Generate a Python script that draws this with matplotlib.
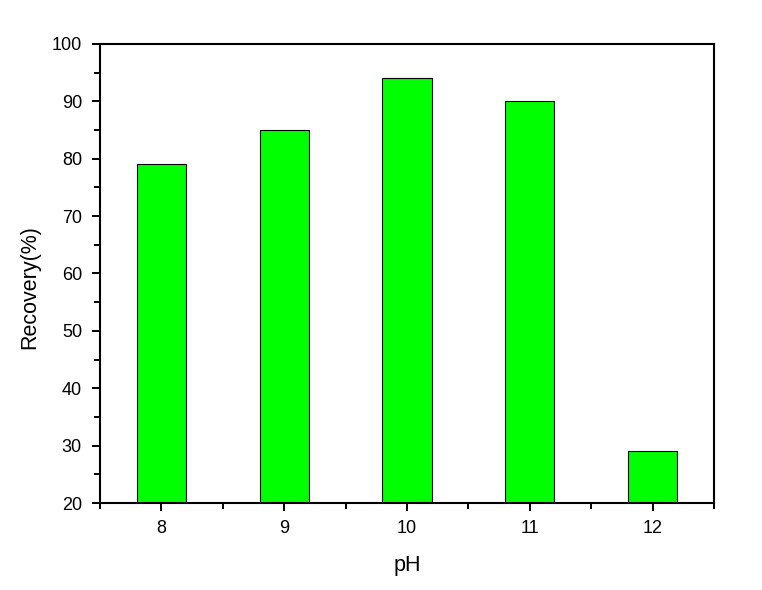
import matplotlib
matplotlib.use("Agg")
import matplotlib.pyplot as plt
from matplotlib.ticker import MultipleLocator

ph = [8, 9, 10, 11, 12]
recovery = [79, 85, 94, 90, 29]
xlabels = ["8", "9", "10", "11", "12"]

plt.rcParams['font.family'] = ['Liberation Sans', 'DejaVu Sans']
fig = plt.figure(figsize=(7.62, 5.90), dpi=100)
ax = fig.add_axes([100/762, 1-503/590, 614/762, 459/590])

base = 20
ax.bar(ph, [v - base for v in recovery], bottom=base, width=0.4,
       color='#00ff00', edgecolor='black', linewidth=0.8, zorder=2)

ax.set_xlim(7.5, 12.5)
ax.set_ylim(20, 100)
ax.set_xticks(ph)
ax.set_xticklabels(xlabels)
ax.xaxis.set_minor_locator(MultipleLocator(0.5))
ax.yaxis.set_major_locator(MultipleLocator(10))
ax.yaxis.set_minor_locator(MultipleLocator(5))
ax.tick_params(which='both', direction='out', width=1.4, labelsize=13, top=False, right=False)
ax.tick_params(which='major', length=6)
ax.tick_params(which='minor', length=4)
ax.tick_params(axis='x', which='major', pad=6)
ax.tick_params(axis='y', which='major', pad=7)
for s in ax.spines.values():
    s.set_linewidth(1.5)
    s.set_zorder(3)

ax.set_xlabel('pH', fontsize=15.5, labelpad=13.5)
ax.set_ylabel('Recovery(%)', fontsize=15.5)
ax.yaxis.set_label_coords(-0.0977, 0.4695)

fig.savefig('out.png', dpi=100)
